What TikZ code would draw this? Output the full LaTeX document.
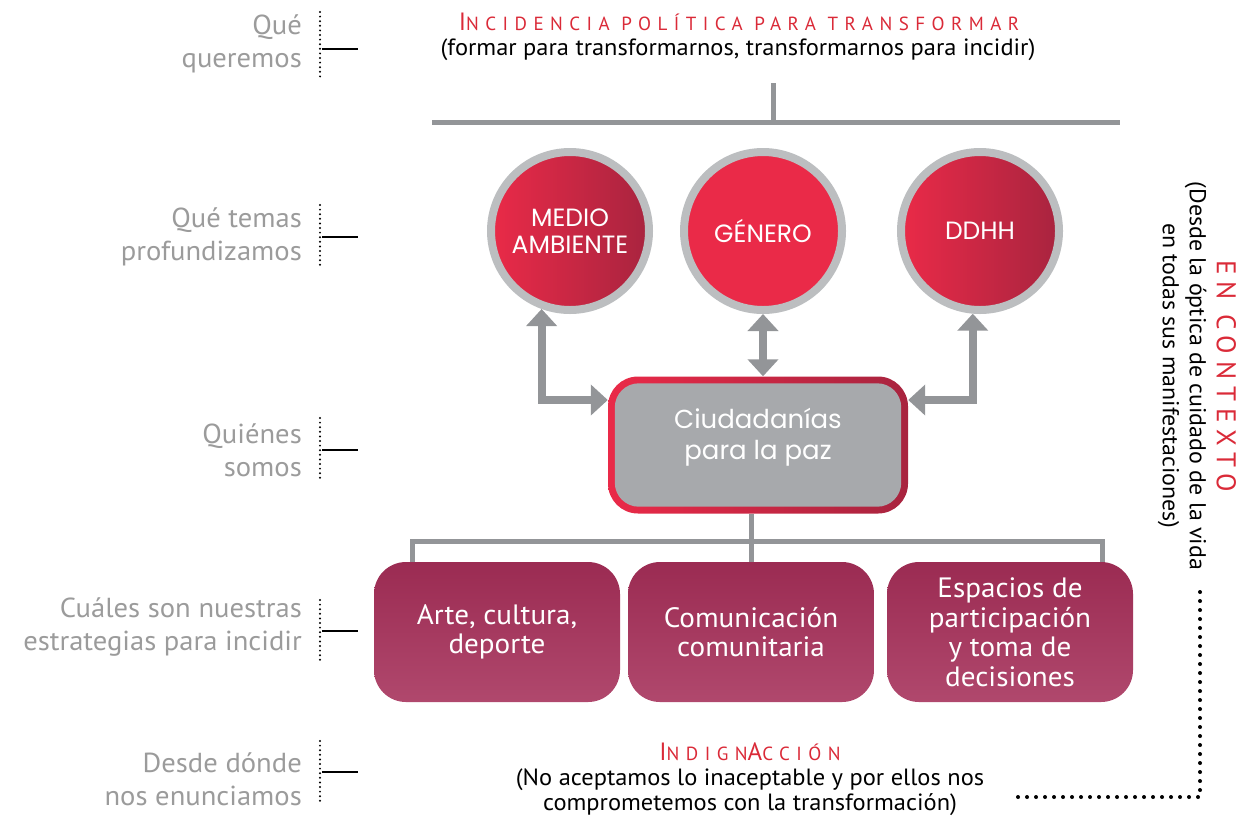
\documentclass[tikz,border=0pt]{standalone}
\usepackage{fontspec}
\setmainfont{PT Sans}[FakeStretch=1.04]
\newfontfamily\geofont{Poppins}
\newfontfamily\spacedfont{PT Sans}[LetterSpace=34]
\newfontfamily\widefont{PT Sans}[LetterSpace=26]
\usetikzlibrary{arrows.meta}

\definecolor{labelgray}{HTML}{9B9B9B}
\definecolor{ringgray}{HTML}{BCBEC0}
\definecolor{arrowgray}{HTML}{939598}
\definecolor{boxgray}{HTML}{A7A9AC}
\definecolor{titlered}{HTML}{DA2A38}
\definecolor{themered}{HTML}{EA2A48}
\definecolor{themedark}{HTML}{A8243F}
\definecolor{stratdark}{HTML}{9B2B52}
\definecolor{stratlight}{HTML}{B0486D}

\begin{document}
\begin{tikzpicture}[x=1pt,y=-1pt,
		lbl/.style={anchor=east, align=right, text=labelgray, inner sep=0pt,
			font=\fontsize{27.5}{33}\selectfont},
		dotrule/.style={line width=2.2pt, line cap=round, dash pattern=on 0pt off 4.6pt},
		tick/.style={line width=2.2pt},
		theme/.style={circle, draw=ringgray, line width=8pt, minimum size=158pt,
			inner sep=0pt, text=white, align=center, font=\geofont\fontsize{25}{27}\selectfont},
		link/.style={draw=arrowgray, line width=8pt,
			{Triangle[width=30pt,length=17pt]}-{Triangle[width=30pt,length=17pt]}},
		tree/.style={draw=arrowgray, line width=5pt},
		stratbox/.style={rectangle, rounded corners=32pt, minimum width=246pt,
			minimum height=140pt, top color=stratdark, bottom color=stratlight,
			text=white, align=center, font=\fontsize{28}{29.5}\selectfont},
		bigdots/.style={line width=4pt, line cap=round, dash pattern=on 0pt off 9pt}]
	\useasboundingbox (0,0) rectangle (1246,820);

	% left column
	\node (q1) [lbl] at (302,44) {Qué\\queremos};
	\node (q2) [lbl] at (302,237) {Qué temas\\profundizamos};
	\node (q3) [lbl] at (302,450) {Quiénes\\somos};
	\node (q4) [lbl] at (302,627) {Cuáles son nuestras\\estrategias para incidir};
	\node (q5) [lbl] at (302,779) {Desde dónde\\nos enunciamos};
	\draw [dotrule] ([shift={(18pt,32pt)}]q1.east) -- ([shift={(18pt,-34pt)}]q1.east);
	\draw [tick] ([shift={(20pt,-5pt)}]q1.east) -- ++(36,0);
	\draw [dotrule] ([shift={(18pt,32pt)}]q2.east) -- ([shift={(18pt,-32pt)}]q2.east);
	\draw [tick] ([shift={(20pt,0pt)}]q2.east) -- ++(36,0);
	\draw [dotrule] ([shift={(18pt,32pt)}]q3.east) -- ([shift={(18pt,-32pt)}]q3.east);
	\draw [tick] ([shift={(20pt,0pt)}]q3.east) -- ++(36,0);
	\draw [dotrule] ([shift={(18pt,27pt)}]q4.east) -- ([shift={(18pt,-37pt)}]q4.east);
	\draw [tick] ([shift={(20pt,-4pt)}]q4.east) -- ++(36,0);
	\draw [dotrule] ([shift={(18pt,38pt)}]q5.east) -- ([shift={(18pt,-26pt)}]q5.east);
	\draw [tick] ([shift={(20pt,7pt)}]q5.east) -- ++(36,0);

	% top
	\node (goal) at (739,22) {\color{titlered}\spacedfont
		\fontsize{25}{25}\selectfont I\fontsize{19}{19}\selectfont NCIDENCIA POLÍTICA PARA TRANSFORMAR};
	\node (goalsub) at (738,50) {\fontsize{23.5}{26}\selectfont (formar para transformarnos, transformarnos para incidir)};
	\coordinate (bar) at (773,122);
	\draw [tree] (773,83) -- (bar);
	\draw [tree] (432,122) -- (1120,122);

	% themes
	\node (medio) [theme, left color=themered, right color=themedark] at (570,231) {MEDIO\\AMBIENTE};
	\node (genero) [theme, fill=themered] at (763,231) {GÉNERO};
	\node (ddhh) [theme, left color=themered, right color=themedark] at (980,231) {DDHH};

	% center box
	\node (ciu) [rectangle, rounded corners=30pt, minimum width=300pt, minimum height=137pt,
		left color=themered, right color=themedark] at (758,445) {};
	\fill [boxgray, rounded corners=24pt] ([shift={(7pt,-7pt)}]ciu.north west)
		rectangle ([shift={(-7pt,7pt)}]ciu.south east);
	\node (ciutext) [text=white, align=center, font=\geofont\fontsize{26}{31}\selectfont]
		at ([yshift=8pt]ciu.center) {Ciudadanías\\para la paz};

	\draw [link] (medio.250) |- (ciu.west |- 0,400);
	\draw [link] (genero.south) -- (ciu.north -| genero.south);
	\draw [link] (ddhh.265) |- (ciu.east |- 0,400);

	% strategies
	\node (arte) [stratbox] at (497,632) {Arte, cultura,\\deporte};
	\node (comun) [stratbox] at (751,632) {Comunicación\\comunitaria};
	\node (espacios) [stratbox] at (1010,632) {Espacios de\\participación\\y toma de\\decisiones};
	\coordinate (hub) at (751,541);
	\draw [tree] (ciu.south -| hub) -- (comun.north);
	\draw [tree] ([xshift=39pt]arte.north west) |- (hub)
		-| ([xshift=-31pt]espacios.north east);

	% bottom
	\node (indig) at (750,752) {\color{titlered}\spacedfont
		\fontsize{25}{25}\selectfont I\fontsize{19}{19}\selectfont NDIGN\fontsize{25}{25}\selectfont A\fontsize{19}{19}\selectfont CCIÓN};
	\node (indigsub) [align=center, font=\fontsize{23.5}{25}\selectfont] at (750,792)
		{(No aceptamos lo inaceptable y por ellos nos\\comprometemos con la transformación)};

	% right side
	\node (contexto) [rotate=-90, align=center, font=\fontsize{23}{27}\selectfont] at (1197,376)
		{{\color{titlered}\widefont\fontsize{27}{30}\selectfont EN CONTEXTO}\\
		(Desde la óptica de cuidado de la vida\\en todas sus manifestaciones)};
	\coordinate (dotstart) at (1200,592);
	\coordinate (dotend) at (1015,797);
	\draw [bigdots] (dotstart) |- (dotend);
\end{tikzpicture}
\end{document}
